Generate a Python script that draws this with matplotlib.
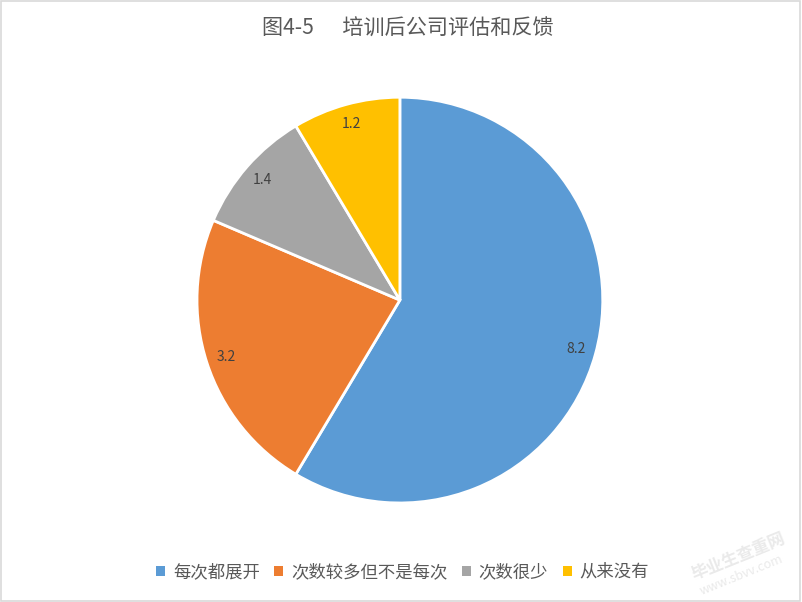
import matplotlib
matplotlib.use("Agg")
import matplotlib.pyplot as plt
from matplotlib.patches import Rectangle

plt.rcParams['font.family'] = ['Noto Sans CJK SC', 'DejaVu Sans']

categories = ["每次都展开", "次数较多但不是每次", "次数很少", "从来没有"]
values = [8.2, 3.2, 1.4, 1.2]
colors = ["#5B9BD5", "#ED7D31", "#A5A5A5", "#FFC000"]
title = "图4-5      培训后公司评估和反馈"

fig = plt.figure(figsize=(8.02, 6.02), dpi=100)
fig.patch.set_facecolor("white")
fig.patches.append(Rectangle((0.001, 0.001), 0.997, 0.997, transform=fig.transFigure,
                             fill=False, edgecolor="#D9D9D9", linewidth=1.2))

ax = fig.add_axes([0.2456, 0.1645, 0.506, 0.674])
it = iter(values)
wedges, texts, autotexts = ax.pie(
    values, colors=colors, startangle=90, counterclock=False,
    wedgeprops=dict(edgecolor="white", linewidth=2),
    autopct=lambda p: f"{next(it):.1f}", pctdistance=0.9,
    textprops=dict(color="#404040", fontsize=10))
ax.set_xlim(-1, 1)
ax.set_ylim(-1, 1)
ax.set_aspect("equal")

fig.text(0.508, 0.953, title, ha="center", va="center", fontsize=15.2, color="#595959")

handles = [Rectangle((0, 0), 1, 1, facecolor=c) for c in colors]
fig.legend(handles, categories, loc="center", bbox_to_anchor=(0.502, 0.05), ncol=4,
           frameon=False, fontsize=12.5, labelcolor="#595959", handlelength=0.5,
           handleheight=0.5, handletextpad=0.45, columnspacing=0.85)

fig.text(0.92, 0.075, "毕业生查重网", rotation=22, ha="center", va="center",
         fontsize=12, color="#EAEAEA", fontweight="bold")
fig.text(0.925, 0.045, "www.sbvv.com", rotation=22, ha="center", va="center",
         fontsize=9, color="#EAEAEA")

fig.savefig("out.png", dpi=100)
